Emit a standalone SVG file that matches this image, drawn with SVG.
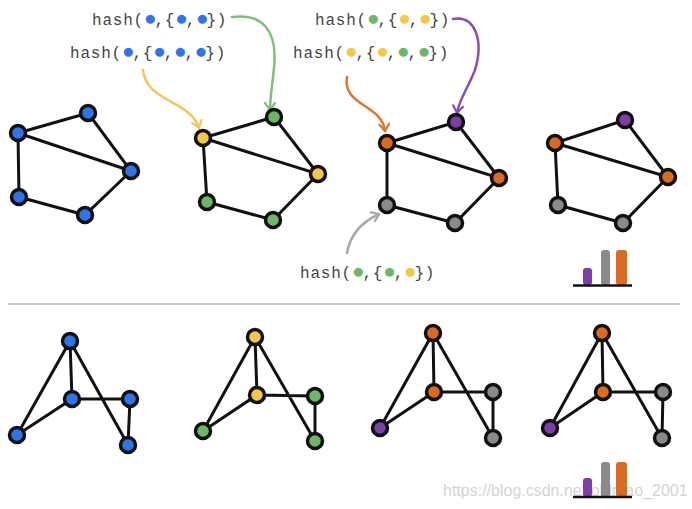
<svg xmlns="http://www.w3.org/2000/svg" width="692" height="509" viewBox="0 0 692 509">
<style>
.e{stroke:#111;stroke-width:3;stroke-linecap:round;fill:none}
.n{stroke:#111;stroke-width:3.5}
.bl{fill:#2f74e8}.ye{fill:#f5c748}.gr{fill:#6cb86a}.or{fill:#dc6b22}.pu{fill:#7d3ea6}.gy{fill:#8a8a8a}
.t{font-family:"Liberation Mono","DejaVu Sans Mono",monospace;font-size:16px;letter-spacing:0.8px;fill:#444}
.d{font-size:21px;letter-spacing:-2.2px}
.a{fill:none;stroke-width:2.5;stroke-linecap:round}
.wm{font-family:"Liberation Sans",Arial,sans-serif;font-size:16px;fill:#d4d4d4}
</style>
<defs>
<marker id="mg" viewBox="-8 -6 10 12" markerWidth="10" markerHeight="12" refX="0" refY="0" orient="auto" markerUnits="userSpaceOnUse"><path d="M-7,-5 L0,0 L-7,5" fill="none" stroke="#7fc07a" stroke-width="2.2" stroke-linecap="round"/></marker>
<marker id="my" viewBox="-8 -6 10 12" markerWidth="10" markerHeight="12" refX="0" refY="0" orient="auto" markerUnits="userSpaceOnUse"><path d="M-7,-5 L0,0 L-7,5" fill="none" stroke="#f1c65a" stroke-width="2.2" stroke-linecap="round"/></marker>
<marker id="mo" viewBox="-8 -6 10 12" markerWidth="10" markerHeight="12" refX="0" refY="0" orient="auto" markerUnits="userSpaceOnUse"><path d="M-7,-5 L0,0 L-7,5" fill="none" stroke="#d9772f" stroke-width="2.2" stroke-linecap="round"/></marker>
<marker id="mp" viewBox="-8 -6 10 12" markerWidth="10" markerHeight="12" refX="0" refY="0" orient="auto" markerUnits="userSpaceOnUse"><path d="M-7,-5 L0,0 L-7,5" fill="none" stroke="#8a4cb8" stroke-width="2.2" stroke-linecap="round"/></marker>
<marker id="mgy" viewBox="-8 -6 10 12" markerWidth="10" markerHeight="12" refX="0" refY="0" orient="auto" markerUnits="userSpaceOnUse"><path d="M-7,-5 L0,0 L-7,5" fill="none" stroke="#a8a8a8" stroke-width="2.2" stroke-linecap="round"/></marker>
</defs>
<rect width="692" height="509" fill="#fff"/>

<g id="connectors">
<path class="e" d="M18,133 L88,113 L131,171 L18,133 M18,133 L19,197 L85,215 L131,171"/>
<path class="e" d="M203,138 L274,117 L318,174 L203,138 M203,138 L207,202 L273,220 L318,174"/>
<path class="e" d="M387,143 L456,122 L499,178 L387,143 M387,143 L387,205 L455,223 L499,178"/>
<path class="e" d="M555,143 L625,120 L668,177 L555,143 M555,143 L558,205 L623,223 L668,177"/>
<path class="e" d="M70,341 L72,399 M70,341 L17,435 M70,341 L128,445 M72,399 L17,435 M72,399 L130,399 L128,445"/>
<path class="e" d="M255,337 L257,395 M255,337 L203,431 M255,337 L315,441 M257,395 L203,431 M257,395 L315,396 L315,441"/>
<path class="e" d="M433,333 L434,392 M433,333 L380,428 M433,333 L493,438 M434,392 L380,428 M434,392 L493,392 L493,438"/>
<path class="e" d="M602,333 L603,392 M602,333 L550,428 M602,333 L662,438 M603,392 L550,428 M603,392 L663,392 L662,438"/>
<path class="a" stroke="#7fc07a" d="M232,17 C262,13 278,30 274,68 C272,88 270,98 270,110" marker-end="url(#mg)"/>
<path class="a" stroke="#f1c65a" d="M143,70 C146,102 190,100 199,128" marker-end="url(#my)"/>
<path class="a" stroke="#d9772f" d="M347,77 C342,106 382,104 385,131" marker-end="url(#mo)"/>
<path class="a" stroke="#8a4cb8" d="M453,19 C475,15 484,40 475,70 C467,90 459,100 457,113" marker-end="url(#mp)"/>
<path class="a" stroke="#a8a8a8" d="M347,253 C350,235 362,222 379,214" marker-end="url(#mgy)"/>
</g>

<line x1="8" y1="304" x2="680" y2="304" stroke="#c8c8c8" stroke-width="2"/>

<g id="g1">
<circle class="n bl" cx="18" cy="133" r="7.5"/><circle class="n bl" cx="88" cy="113" r="7.5"/><circle class="n bl" cx="131" cy="171" r="7.5"/><circle class="n bl" cx="19" cy="197" r="7.5"/><circle class="n bl" cx="85" cy="215" r="7.5"/>
</g>
<g id="g2">
<circle class="n ye" cx="203" cy="138" r="7.5"/><circle class="n gr" cx="274" cy="117" r="7.5"/><circle class="n ye" cx="318" cy="174" r="7.5"/><circle class="n gr" cx="207" cy="202" r="7.5"/><circle class="n gr" cx="273" cy="220" r="7.5"/>
</g>
<g id="g3">
<circle class="n or" cx="387" cy="143" r="7.5"/><circle class="n pu" cx="456" cy="122" r="7.5"/><circle class="n or" cx="499" cy="178" r="7.5"/><circle class="n gy" cx="387" cy="205" r="7.5"/><circle class="n gy" cx="455" cy="223" r="7.5"/>
</g>
<g id="g4">
<circle class="n or" cx="555" cy="143" r="7.5"/><circle class="n pu" cx="625" cy="120" r="7.5"/><circle class="n or" cx="668" cy="177" r="7.5"/><circle class="n gy" cx="558" cy="205" r="7.5"/><circle class="n gy" cx="623" cy="223" r="7.5"/>
</g>
<g id="g5">
<circle class="n bl" cx="70" cy="341" r="7.5"/><circle class="n bl" cx="72" cy="399" r="7.5"/><circle class="n bl" cx="130" cy="399" r="7.5"/><circle class="n bl" cx="128" cy="445" r="7.5"/><circle class="n bl" cx="17" cy="435" r="7.5"/>
</g>
<g id="g6">
<circle class="n ye" cx="255" cy="337" r="7.5"/><circle class="n ye" cx="257" cy="395" r="7.5"/><circle class="n gr" cx="315" cy="396" r="7.5"/><circle class="n gr" cx="315" cy="441" r="7.5"/><circle class="n gr" cx="203" cy="431" r="7.5"/>
</g>
<g id="g7">
<circle class="n or" cx="433" cy="333" r="7.5"/><circle class="n or" cx="434" cy="392" r="7.5"/><circle class="n gy" cx="493" cy="392" r="7.5"/><circle class="n gy" cx="493" cy="438" r="7.5"/><circle class="n pu" cx="380" cy="428" r="7.5"/>
</g>
<g id="g8">
<circle class="n or" cx="602" cy="333" r="7.5"/><circle class="n or" cx="603" cy="392" r="7.5"/><circle class="n gy" cx="663" cy="392" r="7.5"/><circle class="n gy" cx="662" cy="438" r="7.5"/><circle class="n pu" cx="550" cy="428" r="7.5"/>
</g>

<g id="labels">
<text class="t" x="92" y="25">hash(<tspan class="d" fill="#2f74e8">●</tspan>,{<tspan class="d" fill="#2f74e8">●</tspan>,<tspan class="d" fill="#2f74e8">●</tspan>})</text>
<text class="t" x="70" y="58">hash(<tspan class="d" fill="#2f74e8">●</tspan>,{<tspan class="d" fill="#2f74e8">●</tspan>,<tspan class="d" fill="#2f74e8">●</tspan>,<tspan class="d" fill="#2f74e8">●</tspan>})</text>
<text class="t" x="315" y="25">hash(<tspan class="d" fill="#6cb86a">●</tspan>,{<tspan class="d" fill="#f5c748">●</tspan>,<tspan class="d" fill="#f5c748">●</tspan>})</text>
<text class="t" x="293" y="58">hash(<tspan class="d" fill="#f5c748">●</tspan>,{<tspan class="d" fill="#f5c748">●</tspan>,<tspan class="d" fill="#6cb86a">●</tspan>,<tspan class="d" fill="#6cb86a">●</tspan>})</text>
<text class="t" x="300" y="278">hash(<tspan class="d" fill="#6cb86a">●</tspan>,{<tspan class="d" fill="#6cb86a">●</tspan>,<tspan class="d" fill="#f5c748">●</tspan>})</text>
</g>

<text class="wm" x="443" y="496">https://blog.csdn.net/oldmao_2001</text>

<g id="bars1">
<rect class="pu" x="583" y="268" width="9" height="17" rx="3"/>
<rect class="gy" x="601" y="250" width="9" height="35" rx="3"/>
<rect class="or" x="616" y="250" width="11" height="35" rx="3"/>
<line x1="573" y1="285.5" x2="632" y2="285.5" stroke="#111" stroke-width="2.5"/>
</g>
<g id="bars2">
<rect class="pu" x="583" y="478" width="9" height="19" rx="3"/>
<rect class="gy" x="601" y="462" width="9" height="35" rx="3"/>
<rect class="or" x="616" y="462" width="11" height="35" rx="3"/>
<line x1="573" y1="497" x2="632" y2="497" stroke="#111" stroke-width="2.5"/>
</g>
</svg>
